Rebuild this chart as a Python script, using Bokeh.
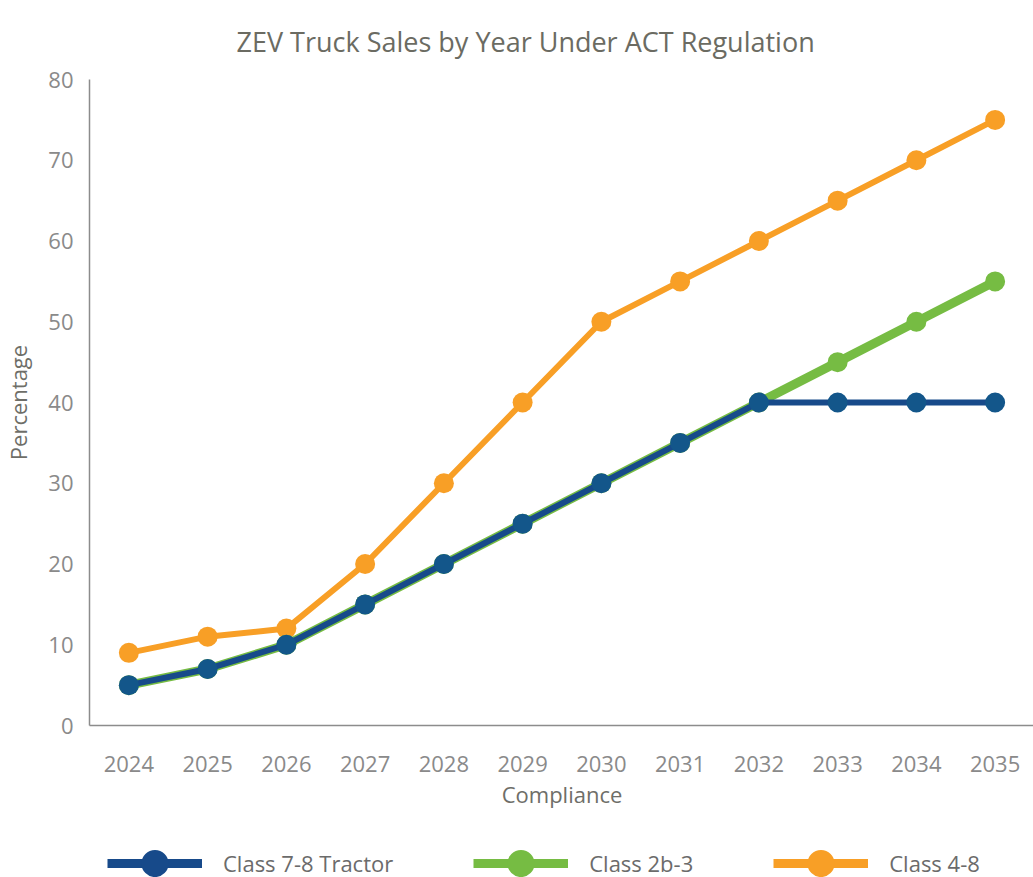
from bokeh.plotting import figure
from bokeh.models import Range1d, FactorRange, FixedTicker, Legend, LegendItem
from bokeh.layouts import column
from bokeh.embed import file_html
from bokeh.resources import INLINE

years = ["2024", "2025", "2026", "2027", "2028", "2029", "2030", "2031", "2032", "2033", "2034", "2035"]
tractor_7_8 = [5, 7, 10, 15, 20, 25, 30, 35, 40, 40, 40, 40]
class_2b_3 = [5, 7, 10, 15, 20, 25, 30, 35, 40, 45, 50, 55]
class_4_8 = [9, 11, 12, 20, 30, 40, 50, 55, 60, 65, 70, 75]
y_ticks = [0, 10, 20, 30, 40, 50, 60, 70, 80]

BLUE = "#174a8a"
BLUE_DOT = "#13568a"
GREEN = "#76bc43"
ORANGE = "#f89f26"
FONT = "Open Sans"

p = figure(x_range=FactorRange(*years), y_range=Range1d(0, 80),
           frame_width=945, frame_height=646,
           min_border_left=80, min_border_right=0, min_border_top=0, min_border_bottom=0,
           output_backend="svg", toolbar_location=None, tools="")

p.title.text = "ZEV Truck Sales by Year Under ACT Regulation"
p.title.align = "left"
p.title.offset = 147
p.title.text_font = FONT
p.title.text_font_style = "normal"
p.title.text_font_size = "27px"
p.title.text_color = "#6b6b62"
p.title.standoff = 40

p.outline_line_color = None
p.xgrid.grid_line_color = None
p.ygrid.grid_line_color = None

for ax in (p.xaxis[0], p.yaxis[0]):
    ax.axis_line_color = "#8c8c8c"
    ax.axis_line_width = 1.5
    ax.major_tick_line_color = None
    ax.minor_tick_line_color = None
    ax.major_tick_out = 0
    ax.major_tick_in = 0
    ax.major_label_text_font = FONT
    ax.major_label_text_font_size = "22px"
    ax.major_label_text_color = "#8a8a8a"
    ax.axis_label_text_font = FONT
    ax.axis_label_text_font_style = "normal"
    ax.axis_label_text_font_size = "22px"
    ax.axis_label_text_color = "#6e6e68"

p.yaxis[0].ticker = FixedTicker(ticks=y_ticks)
p.yaxis[0].major_label_standoff = 16
p.yaxis[0].axis_label = "Percentage"
p.yaxis[0].axis_label_standoff = 12
p.xaxis[0].axis_label = "Compliance"
p.xaxis[0].major_label_standoff = 30
p.xaxis[0].axis_label_standoff = 4

def dots(fig, vals, color, d):
    return fig.ellipse(years, vals, width=d, height=d, width_units="screen",
                       height_units="screen", fill_color=color, line_color=None)

p.line(years, class_4_8, line_color=ORANGE, line_width=6)
dots(p, class_4_8, ORANGE, 20)
p.line(years, class_2b_3, line_color=GREEN, line_width=9)
dots(p, class_2b_3, GREEN, 20)
p.line(years, tractor_7_8, line_color=BLUE, line_width=6)
dots(p, tractor_7_8, BLUE_DOT, 20)

# legend strip below the chart (its data lie outside its own ranges, only the key is seen)
lf = figure(x_range=FactorRange(*years), y_range=Range1d(1000, 1001),
            width=1025, height=69, min_border=0,
            x_axis_type=None, y_axis_type=None,
            output_backend="svg", toolbar_location=None, tools="")
lf.outline_line_color = None
lf.xgrid.grid_line_color = None
lf.ygrid.grid_line_color = None

kb = lf.line(years, tractor_7_8, line_color=BLUE, line_width=9)
db = dots(lf, tractor_7_8, BLUE, 20)
kg = lf.line(years, class_2b_3, line_color=GREEN, line_width=9)
dg = dots(lf, class_2b_3, GREEN, 20)
ko = lf.line(years, class_4_8, line_color=ORANGE, line_width=9)
do = dots(lf, class_4_8, ORANGE, 20)

legend = Legend(items=[
    LegendItem(label="Class 7-8 Tractor", renderers=[kb, db]),
    LegendItem(label="Class 2b-3", renderers=[kg, dg]),
    LegendItem(label="Class 4-8", renderers=[ko, do]),
], orientation="horizontal", location=(18, 0), glyph_width=95, glyph_height=34,
   label_standoff=21, spacing=80, padding=0, margin=0,
   border_line_color=None, background_fill_alpha=0,
   label_text_font=FONT, label_text_font_size="22px", label_text_color="#6b6b6b")
lf.add_layout(legend, "center")

open("out.html", "w").write(file_html(column(p, lf), INLINE))
